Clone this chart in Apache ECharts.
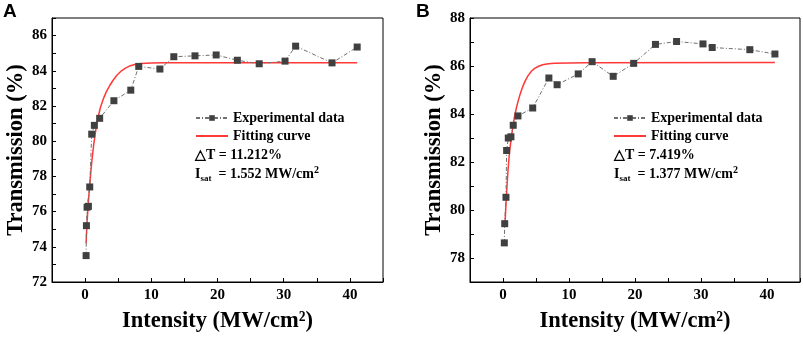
<!DOCTYPE html>
<html>
<head>
<meta charset="utf-8">
<script src="https://cdn.jsdelivr.net/npm/echarts@6/dist/echarts.min.js"></script>
<style>
html,body{margin:0;padding:0;background:#fff;}
#chart{width:803px;height:338px;}
</style>
</head>
<body>
<div id="chart"></div>
<script>
// Panel A data
const xA = [0.15,0.2,0.3,0.5,0.7,1.0,1.4,2.2,4.35,6.9,8.1,11.3,13.4,16.6,19.8,23.0,26.3,30.2,31.8,37.3,41.1];
const yA = [73.5,75.2,76.25,76.3,77.4,80.4,80.9,81.3,82.3,82.9,84.25,84.1,84.8,84.85,84.9,84.6,84.4,84.55,85.4,84.45,85.35];
const fitAx = [0.15,0.3,0.45,0.65,0.9,1.1,1.3,1.5,1.8,2.3,2.8,3.2,3.7,4.2,4.8,5.5,6.1,6.7,7.5,8.5,10,12,41.1];
const fitAy = [74.2,75.4,76.3,77.3,78.4,79.15,79.8,80.35,81.1,81.9,82.45,82.8,83.15,83.45,83.75,84.0,84.15,84.27,84.36,84.41,84.44,84.46,84.46];
// Panel B data
const xB = [0.2,0.26,0.45,0.55,0.8,1.2,1.55,2.27,4.5,6.95,8.2,11.4,13.5,16.7,19.8,23.1,26.3,30.3,31.7,37.4,41.2];
const yB = [78.63,79.43,80.53,82.48,83.0,83.05,83.53,83.92,84.25,85.5,85.22,85.67,86.18,85.57,86.11,86.9,87.02,86.92,86.77,86.68,86.5];
const fitBx = [0.3,0.4,0.5,0.65,0.8,1.0,1.35,1.75,2.05,2.35,2.7,3.0,3.4,3.8,4.3,4.8,5.4,6.0,6.9,7.8,10,12.4,41.2];
const fitBy = [79.4,79.95,80.5,81.2,81.8,82.45,83.2,83.9,84.28,84.6,84.92,85.15,85.4,85.6,85.78,85.9,85.99,86.05,86.09,86.11,86.13,86.14,86.15];
// Axis settings
const xTicks = {min: -5, max: 45, interval: 5};
const yRangeA = {min: 72, max: 87};
const yRangeB = {min: 77, max: 88};
const seriesNames = ['Experimental data', 'Fitting curve'];
const annA = ['11.212%', '1.552'];
const annB = ['7.419%', '1.377'];

const FONT = 'Liberation Serif';
const zip = (a, b) => a.map((v, i) => [v, b[i]]);

function xAxis(gi) {
  return {
    type: 'value', gridIndex: gi, min: xTicks.min, max: xTicks.max, interval: xTicks.interval,
    name: 'Intensity (MW/cm²)', nameLocation: 'middle', nameGap: 28,
    nameTextStyle: {fontFamily: FONT, fontWeight: 'bold', fontSize: 22.5, color: '#000'},
    axisLine: {onZero: false, lineStyle: {color: '#000', width: 1}},
    axisTick: {inside: true, length: 4, lineStyle: {color: '#000'}},
    axisLabel: {margin: 6, fontFamily: FONT, fontWeight: 'bold', fontSize: 15, color: '#000',
      formatter: v => (v % 10 === 0 && v >= 0 && v <= 40) ? String(v) : ''},
    splitLine: {show: false}
  };
}
function yAxis(gi, r) {
  return {
    type: 'value', gridIndex: gi, min: r.min, max: r.max, interval: 1,
    name: 'Transmission (%)', nameLocation: 'middle', nameGap: 24,
    nameTextStyle: {fontFamily: FONT, fontWeight: 'bold', fontSize: 22.5, color: '#000'},
    axisLine: {onZero: false, lineStyle: {color: '#000', width: 1}},
    axisTick: {inside: true, length: 4, lineStyle: {color: '#000'}},
    axisLabel: {margin: 5, fontFamily: FONT, fontWeight: 'bold', fontSize: 15, color: '#000',
      formatter: v => (v % 2 === 0) ? String(v) : ''},
    splitLine: {show: false}
  };
}
function dataSeries(gi, xs, ys) {
  return {
    name: seriesNames[0], type: 'line', xAxisIndex: gi, yAxisIndex: gi,
    data: zip(xs, ys), symbol: 'rect', symbolSize: 7, z: 3,
    lineStyle: {color: '#707070', width: 1, type: [4, 2, 1, 2]},
    itemStyle: {color: '#404040'}, animation: false
  };
}
function fitSeries(gi, xs, ys) {
  return {
    name: seriesNames[1], type: 'line', xAxisIndex: gi, yAxisIndex: gi,
    data: zip(xs, ys), symbol: 'none', showSymbol: false, smooth: false, z: 2,
    lineStyle: {color: '#ff3838', width: 1.5},
    itemStyle: {color: '#ff3838'}, animation: false
  };
}
function legend(left) {
  return {
    data: [{name: seriesNames[0]}, {name: seriesNames[1], itemStyle: {opacity: 0}}],
    left: left, top: 111, orient: 'vertical', padding: 0,
    itemWidth: 32, itemHeight: 7, itemGap: 4, selectedMode: false,
    textStyle: {fontFamily: FONT, fontWeight: 'bold', fontSize: 14, color: '#000'}
  };
}
const richBase = {
  a: {fontFamily: FONT, fontWeight: 'bold', fontSize: 14, color: '#000', lineHeight: 18},
  s: {fontFamily: FONT, fontWeight: 'bold', fontSize: 9, color: '#000', lineHeight: 18, verticalAlign: 'bottom', padding: [7,0,0,0]},
  p: {fontFamily: FONT, fontWeight: 'bold', fontSize: 10, color: '#000', lineHeight: 18, verticalAlign: 'top', padding: [0,0,6,0]}
};
function annotations(left, ann) {
  return [
    {type: 'text', left: left, top: 148, style: {text: '△T = ' + ann[0], font: 'bold 14px ' + FONT, fill: '#000'}},
    {type: 'text', left: left, top: 165, style: {text: '{a|I}{s|sat}{a|  = ' + ann[1] + ' MW/cm}{p|2}', rich: richBase}}
  ];
}

const chart = echarts.init(document.getElementById('chart'), null, {renderer: 'canvas'});
chart.setOption({
  animation: false,
  backgroundColor: '#fff',
  grid: [
    {left: 52, top: 18, width: 331, height: 267, show: true, borderColor: '#000', borderWidth: 1},
    {left: 470, top: 18, width: 330, height: 267, show: true, borderColor: '#000', borderWidth: 1}
  ],
  xAxis: [xAxis(0), xAxis(1)],
  yAxis: [yAxis(0, yRangeA), yAxis(1, yRangeB)],
  legend: [legend(195), legend(613)],
  series: [
    fitSeries(0, fitAx, fitAy), dataSeries(0, xA, yA),
    fitSeries(1, fitBx, fitBy), dataSeries(1, xB, yB)
  ],
  graphic: [
    {type: 'text', left: 3, top: 2, style: {text: 'A', font: 'bold 19px Liberation Sans', fill: '#000'}},
    {type: 'text', left: 416, top: 2, style: {text: 'B', font: 'bold 19px Liberation Sans', fill: '#000'}},
    ...annotations(195, annA),
    ...annotations(614, annB)
  ]
});
</script>
</body>
</html>
